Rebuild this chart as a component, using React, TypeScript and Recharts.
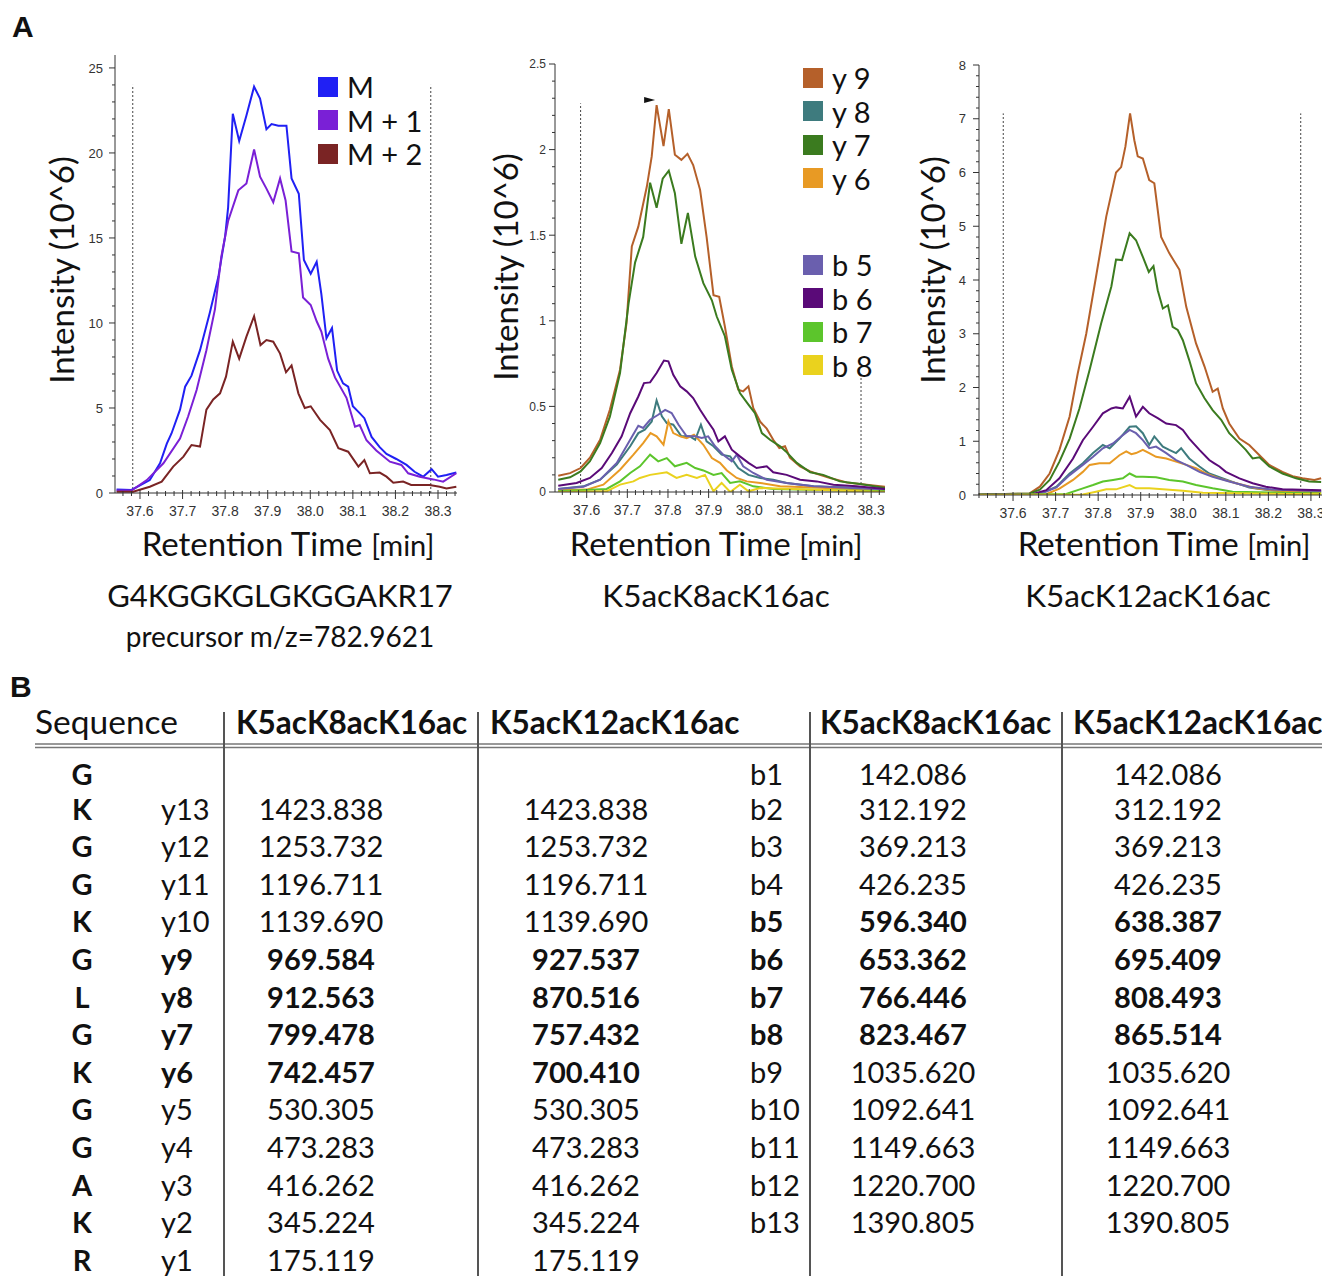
import React from "react";
import { LineChart, Line, XAxis, YAxis, ReferenceLine, ReferenceDot, Legend } from "recharts";

// ---- panel A1: precursor isotopes (retention time, intensity 10^6) ----
const precM = [[37.545,0.2],[37.58,0.18],[37.623,0.76],[37.647,1.75],[37.663,2.9],[37.674,3.5],[37.694,4.9],[37.706,6.25],[37.721,6.9],[37.741,8.4],[37.764,10.6],[37.784,12.7],[37.8,15.1],[37.807,16.8],[37.818,22.3],[37.833,20.7],[37.85,22.2],[37.868,23.9],[37.882,23.2],[37.897,21.4],[37.909,21.7],[37.925,21.6],[37.944,21.6],[37.956,18.5],[37.973,17.6],[37.985,13.7],[38.001,12.9],[38.015,13.6],[38.026,11.7],[38.038,9.1],[38.051,9.7],[38.063,7.2],[38.077,6.45],[38.089,6.25],[38.1,5.1],[38.116,4.7],[38.127,4.4],[38.144,3.3],[38.163,2.7],[38.179,2.3],[38.202,2.0],[38.226,1.65],[38.245,1.25],[38.265,0.96],[38.285,1.4],[38.3,0.96],[38.32,1.06],[38.343,1.2]];
const precM1 = [[37.545,0.14],[37.58,0.14],[37.616,0.76],[37.655,1.75],[37.694,3.2],[37.713,4.5],[37.733,6.06],[37.756,8.4],[37.776,10.8],[37.791,13.9],[37.807,16.0],[37.831,17.8],[37.85,18.2],[37.868,20.2],[37.882,18.6],[37.897,17.9],[37.913,17.1],[37.929,18.5],[37.942,17.2],[37.956,14.2],[37.973,14.1],[37.983,11.5],[38.001,11.06],[38.015,10.1],[38.026,9.5],[38.042,7.9],[38.058,6.8],[38.085,5.6],[38.105,3.9],[38.116,4.0],[38.132,3.1],[38.155,2.5],[38.187,1.84],[38.214,1.65],[38.23,1.16],[38.257,0.96],[38.289,0.8],[38.312,0.67],[38.343,1.16]];
const precM2 = [[37.545,0.08],[37.584,0.08],[37.623,0.37],[37.651,0.67],[37.678,1.55],[37.702,2.14],[37.721,2.82],[37.741,2.73],[37.756,4.9],[37.772,5.5],[37.788,5.86],[37.802,6.84],[37.818,8.9],[37.833,7.9],[37.85,9.2],[37.868,10.4],[37.883,8.7],[37.897,9.0],[37.913,8.9],[37.929,8.2],[37.943,7.1],[37.956,7.5],[37.972,5.86],[37.987,5.0],[38.001,5.1],[38.023,4.3],[38.046,3.7],[38.066,2.63],[38.089,2.43],[38.113,1.55],[38.127,1.94],[38.14,1.16],[38.163,1.2],[38.179,0.96],[38.195,0.6],[38.218,0.67],[38.237,0.47],[38.28,0.47],[38.304,0.37],[38.32,0.27],[38.343,0.37]];

// ---- panel A2: K5acK8acK16ac fragments ----
const k8y9 = [[37.53,0.095],[37.559,0.11],[37.585,0.14],[37.608,0.2],[37.633,0.305],[37.657,0.48],[37.682,0.714],[37.698,0.986],[37.711,1.434],[37.727,1.55],[37.748,1.784],[37.76,1.96],[37.772,2.26],[37.789,2.02],[37.802,2.236],[37.817,1.97],[37.833,1.94],[37.848,1.975],[37.862,1.91],[37.879,1.765],[37.895,1.49],[37.912,1.15],[37.926,1.14],[37.94,0.967],[37.957,0.733],[37.973,0.597],[37.985,0.588],[37.998,0.617],[38.01,0.49],[38.027,0.41],[38.043,0.37],[38.059,0.305],[38.074,0.257],[38.088,0.267],[38.1,0.2],[38.125,0.15],[38.15,0.12],[38.166,0.107],[38.199,0.082],[38.24,0.056],[38.289,0.043],[38.334,0.03]];
const k8y8 = [[37.53,0.018],[37.592,0.033],[37.633,0.072],[37.674,0.16],[37.707,0.267],[37.727,0.344],[37.743,0.364],[37.76,0.412],[37.772,0.535],[37.785,0.442],[37.797,0.403],[37.813,0.393],[37.833,0.325],[37.854,0.325],[37.867,0.305],[37.881,0.393],[37.895,0.296],[37.912,0.267],[37.932,0.218],[37.953,0.208],[37.973,0.14],[37.998,0.1],[38.027,0.082],[38.059,0.072],[38.092,0.053],[38.158,0.033],[38.334,0.018]];
const k8y7 = [[37.53,0.072],[37.559,0.086],[37.585,0.12],[37.608,0.18],[37.633,0.286],[37.657,0.44],[37.682,0.695],[37.703,1.1],[37.719,1.34],[37.739,1.49],[37.756,1.807],[37.772,1.66],[37.787,1.83],[37.802,1.877],[37.817,1.745],[37.833,1.45],[37.849,1.63],[37.867,1.375],[37.887,1.22],[37.908,1.12],[37.92,1.025],[37.94,0.91],[37.957,0.714],[37.977,0.578],[37.998,0.51],[38.014,0.46],[38.031,0.344],[38.051,0.305],[38.076,0.267],[38.09,0.237],[38.117,0.17],[38.15,0.115],[38.182,0.1],[38.223,0.062],[38.273,0.047],[38.334,0.023]];
const k8y6 = [[37.53,0.01],[37.6,0.014],[37.641,0.043],[37.682,0.13],[37.715,0.218],[37.739,0.286],[37.757,0.344],[37.772,0.325],[37.789,0.276],[37.801,0.412],[37.813,0.344],[37.83,0.325],[37.846,0.315],[37.864,0.335],[37.887,0.276],[37.908,0.198],[37.928,0.17],[37.945,0.126],[37.969,0.082],[37.994,0.062],[38.027,0.053],[38.076,0.033],[38.334,0.01]];
const k8b5 = [[37.53,0.018],[37.592,0.03],[37.633,0.072],[37.674,0.17],[37.707,0.305],[37.727,0.387],[37.739,0.374],[37.756,0.422],[37.776,0.451],[37.793,0.48],[37.809,0.461],[37.826,0.393],[37.846,0.325],[37.867,0.325],[37.883,0.315],[37.899,0.325],[37.916,0.267],[37.936,0.218],[37.957,0.179],[37.969,0.218],[37.985,0.15],[38.01,0.111],[38.043,0.072],[38.092,0.053],[38.158,0.033],[38.334,0.014]];
const k8b6 = [[37.53,0.037],[37.575,0.053],[37.608,0.082],[37.637,0.14],[37.662,0.228],[37.686,0.325],[37.707,0.46],[37.727,0.558],[37.741,0.636],[37.756,0.64],[37.772,0.695],[37.79,0.768],[37.801,0.763],[37.813,0.685],[37.83,0.617],[37.846,0.588],[37.862,0.549],[37.879,0.48],[37.895,0.422],[37.912,0.364],[37.924,0.296],[37.94,0.325],[37.957,0.247],[37.977,0.208],[37.998,0.17],[38.018,0.14],[38.043,0.15],[38.059,0.115],[38.092,0.1],[38.125,0.072],[38.166,0.062],[38.207,0.043],[38.264,0.033],[38.334,0.018]];
const k8b7 = [[37.53,0.004],[37.649,0.018],[37.682,0.062],[37.707,0.111],[37.731,0.15],[37.756,0.218],[37.776,0.179],[37.797,0.198],[37.817,0.15],[37.846,0.17],[37.867,0.14],[37.887,0.126],[37.912,0.1],[37.932,0.111],[37.953,0.053],[37.977,0.062],[38.01,0.033],[38.059,0.018],[38.334,0.004]];
const k8b8 = [[37.53,0.0],[37.649,0.004],[37.682,0.043],[37.715,0.062],[37.731,0.082],[37.756,0.1],[37.797,0.115],[37.821,0.082],[37.846,0.1],[37.871,0.082],[37.891,0.1],[37.912,0.004],[37.932,0.053],[37.953,0.0],[37.977,0.043],[37.998,0.004],[38.027,0.023],[38.334,0.0]];

// ---- panel A3: K5acK12acK16ac fragments ----
const k12y9 = [[37.52,0.01],[37.639,0.03],[37.663,0.155],[37.686,0.4],[37.709,0.84],[37.733,1.46],[37.752,2.26],[37.772,3.0],[37.795,4.06],[37.819,5.18],[37.842,6.0],[37.854,6.1],[37.864,6.48],[37.875,7.1],[37.885,6.6],[37.893,6.3],[37.905,6.26],[37.92,5.86],[37.932,5.8],[37.948,4.8],[37.967,4.5],[37.991,4.19],[38.007,3.5],[38.03,2.82],[38.05,2.39],[38.069,1.92],[38.081,1.98],[38.093,1.61],[38.108,1.33],[38.132,1.05],[38.155,0.93],[38.179,0.74],[38.202,0.56],[38.233,0.43],[38.257,0.35],[38.28,0.31],[38.308,0.28],[38.324,0.31]];
const k12y8 = [[37.52,0.0],[37.663,0.02],[37.702,0.155],[37.733,0.4],[37.764,0.59],[37.788,0.78],[37.811,0.93],[37.827,0.87],[37.85,1.05],[37.874,1.27],[37.889,1.28],[37.905,1.15],[37.92,0.93],[37.932,1.09],[37.952,0.9],[37.967,0.84],[37.983,0.78],[37.995,0.87],[38.014,0.68],[38.038,0.53],[38.061,0.4],[38.093,0.31],[38.124,0.22],[38.155,0.14],[38.202,0.09],[38.324,0.06]];
const k12y7 = [[37.52,0.01],[37.639,0.03],[37.663,0.1],[37.686,0.28],[37.709,0.62],[37.733,1.05],[37.756,1.61],[37.78,2.33],[37.807,3.19],[37.831,3.88],[37.842,4.38],[37.856,4.37],[37.874,4.87],[37.889,4.74],[37.905,4.43],[37.919,4.15],[37.93,4.26],[37.94,3.81],[37.952,3.47],[37.964,3.53],[37.975,3.13],[37.987,3.07],[37.999,2.88],[38.014,2.51],[38.03,2.08],[38.05,1.8],[38.069,1.58],[38.089,1.4],[38.108,1.15],[38.132,0.96],[38.147,0.84],[38.163,0.68],[38.179,0.7],[38.202,0.53],[38.233,0.4],[38.265,0.31],[38.296,0.25],[38.324,0.24]];
const k12y6 = [[37.52,0.0],[37.679,0.02],[37.709,0.12],[37.741,0.28],[37.764,0.43],[37.78,0.56],[37.803,0.59],[37.827,0.59],[37.85,0.74],[37.866,0.81],[37.878,0.76],[37.889,0.78],[37.905,0.84],[37.92,0.78],[37.936,0.71],[37.96,0.68],[37.983,0.62],[38.007,0.56],[38.03,0.5],[38.053,0.4],[38.085,0.31],[38.124,0.22],[38.171,0.124],[38.233,0.062],[38.324,0.043]];
const k12b5 = [[37.52,0.0],[37.663,0.02],[37.702,0.14],[37.733,0.37],[37.764,0.56],[37.788,0.71],[37.811,0.87],[37.835,0.96],[37.854,1.09],[37.874,1.21],[37.889,1.15],[37.905,1.02],[37.92,0.87],[37.936,0.9],[37.96,0.78],[37.983,0.65],[38.007,0.56],[38.038,0.43],[38.069,0.34],[38.108,0.25],[38.155,0.155],[38.202,0.105],[38.324,0.075]];
const k12b6 = [[37.52,0.0],[37.647,0.02],[37.678,0.09],[37.709,0.31],[37.741,0.68],[37.764,1.02],[37.788,1.27],[37.811,1.52],[37.831,1.61],[37.842,1.63],[37.858,1.61],[37.874,1.83],[37.889,1.46],[37.905,1.64],[37.92,1.52],[37.94,1.43],[37.96,1.33],[37.983,1.3],[37.999,1.21],[38.014,1.05],[38.038,0.84],[38.061,0.65],[38.073,0.59],[38.085,0.53],[38.1,0.43],[38.132,0.31],[38.163,0.22],[38.194,0.155],[38.233,0.105],[38.324,0.09]];
const k12b7 = [[37.52,0.0],[37.725,0.02],[37.764,0.124],[37.788,0.186],[37.811,0.25],[37.835,0.28],[37.858,0.31],[37.874,0.4],[37.889,0.34],[37.905,0.34],[37.936,0.33],[37.967,0.28],[37.999,0.25],[38.03,0.186],[38.069,0.124],[38.116,0.062],[38.324,0.03]];
const k12b8 = [[37.52,0.0],[37.764,0.01],[37.795,0.062],[37.819,0.105],[37.842,0.105],[37.874,0.186],[37.889,0.124],[37.92,0.124],[37.952,0.105],[37.999,0.08],[38.046,0.043],[38.324,0.012]];

// ---- tick labels ----
const rtMajor = [37.6, 37.7, 37.8, 37.9, 38.0, 38.1, 38.2, 38.3];
const yMajor1 = [0, 5, 10, 15, 20, 25];
const yMajor2 = [0, 0.5, 1, 1.5, 2, 2.5];
const yMajor3 = [0, 1, 2, 3, 4, 5, 6, 7, 8];

// ---- table B ----
const residues = ["G", "K", "G", "G", "K", "G", "L", "G", "K", "G", "G", "A", "K", "R"];
const yIons = ["", "y13", "y12", "y11", "y10", "y9", "y8", "y7", "y6", "y5", "y4", "y3", "y2", "y1"];
const yK8 = ["", "1423.838", "1253.732", "1196.711", "1139.690", "969.584", "912.563", "799.478", "742.457", "530.305", "473.283", "416.262", "345.224", "175.119"];
const yK12 = ["", "1423.838", "1253.732", "1196.711", "1139.690", "927.537", "870.516", "757.432", "700.410", "530.305", "473.283", "416.262", "345.224", "175.119"];
const bIons = ["b1", "b2", "b3", "b4", "b5", "b6", "b7", "b8", "b9", "b10", "b11", "b12", "b13", ""];
const bK8 = ["142.086", "312.192", "369.213", "426.235", "596.340", "653.362", "766.446", "823.467", "1035.620", "1092.641", "1149.663", "1220.700", "1390.805", ""];
const bK12 = ["142.086", "312.192", "369.213", "426.235", "638.387", "695.409", "808.493", "865.514", "1035.620", "1092.641", "1149.663", "1220.700", "1390.805", ""];
const yBold = ["y9", "y8", "y7", "y6"];
const bBold = ["b5", "b6", "b7", "b8"];

const toPts = (arr: number[][]) => arr.map(([t, v]) => ({ t, v }));

const steps = (a: number, b: number, step: number) => {
  const out: number[] = [];
  const n = Math.round((b - a) / step);
  for (let i = 0; i <= n; i++) out.push(+(a + i * step).toFixed(2));
  return out;
};

const SANS = "Lato, 'Open Sans', sans-serif";
const TICKFONT = "'Liberation Sans', Arial, sans-serif";
const near = (v: number, list: number[]) => list.some((m) => Math.abs(m - v) < 1e-6);

const makeYTick = (major: number[], gap: number, fs: number) => (p: any) => {
  const { x, y, payload } = p;
  const isMaj = near(payload.value, major);
  return (
    <g>
      <line x1={x} x2={x - (isMaj ? 6 : 3)} y1={y} y2={y} stroke="#333" />
      {isMaj && (
        <text x={x - gap} y={y} dy="0.36em" textAnchor="end" fontSize={fs} fill="#333" fontFamily={TICKFONT}>
          {String(payload.value)}
        </text>
      )}
    </g>
  );
};

const XTick = (p: any) => {
  const { x, y, payload } = p;
  const isMaj = near(payload.value, rtMajor);
  return (
    <g>
      <line x1={x} x2={x} y1={y - (isMaj ? 3 : 2)} y2={y + (isMaj ? 6 : 3)} stroke="#333" />
      {isMaj && (
        <text x={x} y={y + 23} textAnchor="middle" fontSize={14} fill="#333" fontFamily={TICKFONT}>
          {payload.value.toFixed(1)}
        </text>
      )}
    </g>
  );
};

// legend keeps the series order (recharts sorts by name otherwise)
const legendContent = (order: string[], gapAfter: number, extra: number) => (props: any) => {
  const items = [...(props.payload || [])].sort(
    (a: any, b: any) => order.indexOf(a.value) - order.indexOf(b.value)
  );
  return (
    <div style={{ fontFamily: SANS, fontSize: 29, color: "#111" }}>
      {items.map((it: any, i: number) => (
        <div key={i} style={{ display: "flex", alignItems: "center", height: 33.5, marginTop: i === gapAfter ? extra : 0 }}>
          <span style={{ width: 20, height: 20, background: it.color, display: "inline-block", marginRight: 9 }} />
          <span>{it.value}</span>
        </div>
      ))}
    </div>
  );
};

type Series = { name: string; color: string; data: number[][] };

const precSeries: Series[] = [
  { name: "M", color: "#2020f4", data: precM },
  { name: "M + 1", color: "#7a20d6", data: precM1 },
  { name: "M + 2", color: "#7a2424", data: precM2 },
];
const col = { y9: "#b5602a", y8: "#3e7b7e", y7: "#3b7b1f", y6: "#e89a24", b5: "#6a5fae", b6: "#5a0a78", b7: "#5cc52c", b8: "#ead21e" };
const k8Series: Series[] = [
  { name: "y 9", color: col.y9, data: k8y9 },
  { name: "y 8", color: col.y8, data: k8y8 },
  { name: "y 7", color: col.y7, data: k8y7 },
  { name: "y 6", color: col.y6, data: k8y6 },
  { name: "b 5", color: col.b5, data: k8b5 },
  { name: "b 6", color: col.b6, data: k8b6 },
  { name: "b 7", color: col.b7, data: k8b7 },
  { name: "b 8", color: col.b8, data: k8b8 },
];
const k12Series: Series[] = [
  { name: "y 9", color: col.y9, data: k12y9 },
  { name: "y 8", color: col.y8, data: k12y8 },
  { name: "y 7", color: col.y7, data: k12y7 },
  { name: "y 6", color: col.y6, data: k12y6 },
  { name: "b 5", color: col.b5, data: k12b5 },
  { name: "b 6", color: col.b6, data: k12b6 },
  { name: "b 7", color: col.b7, data: k12b7 },
  { name: "b 8", color: col.b8, data: k12b8 },
];

type PanelProps = {
  left: number;
  width: number;
  top: number;
  bottom: number;
  right: number;
  yWidth: number;
  xDomain: [number, number];
  xTicks: number[];
  yDomain: [number, number];
  yTicks: number[];
  yMajor: number[];
  yGap: number;
  yFont: number;
  series: Series[];
  marks: { x: number; y2: number }[];
  legend?: React.ReactNode;
  extra?: React.ReactNode;
};

function Panel(p: PanelProps) {
  return (
    <div style={{ position: "absolute", left: p.left, top: 0 }}>
      <LineChart width={p.width} height={540} margin={{ top: p.top, right: p.right, bottom: p.bottom, left: 0 }}>
        <XAxis
          dataKey="t"
          type="number"
          domain={p.xDomain}
          allowDataOverflow
          ticks={p.xTicks}
          interval={0}
          tickSize={0}
          tickMargin={0}
          tickLine={false}
          tick={XTick}
          height={30}
          axisLine={{ stroke: "#333" }}
        />
        <YAxis
          type="number"
          domain={p.yDomain}
          allowDataOverflow
          ticks={p.yTicks}
          interval={0}
          tickSize={0}
          tickMargin={0}
          tickLine={false}
          tick={makeYTick(p.yMajor, p.yGap, p.yFont)}
          width={p.yWidth}
          axisLine={{ stroke: "#333" }}
        />
        {p.marks.map((m, i) => (
          <ReferenceLine
            key={i}
            segment={[{ x: m.x, y: 0 }, { x: m.x, y: m.y2 }]}
            stroke="#444"
            strokeDasharray="2 2"
          />
        ))}
        {p.series.map((s) => (
          <Line
            key={s.name}
            data={toPts(s.data)}
            dataKey="v"
            name={s.name}
            type="linear"
            stroke={s.color}
            strokeWidth={2}
            dot={false}
            isAnimationActive={false}
          />
        ))}
        {p.legend}
        {p.extra}
      </LineChart>
    </div>
  );
}

const Arrow = (p: any) => (
  <path d={`M${p.cx - 6},${p.cy - 3} L${p.cx + 5},${p.cy} L${p.cx - 6},${p.cy + 3} Z`} fill="#111" />
);

export default function App() {
  const rowY = (i: number) => (i === 0 ? 784.5 : 819.5 + (i - 1) * 37.6);
  const tFont = { fontFamily: SANS, fill: "#111" };
  return (
    <div style={{ position: "absolute", left: 0, top: 0, width: 1322, height: 1276, overflow: "hidden", background: "#fff" }}>
      <Panel
        left={0}
        width={462}
        top={55}
        right={5}
        bottom={17}
        yWidth={115}
        xDomain={[37.5413, 38.3446]}
        xTicks={steps(37.56, 38.34, 0.02)}
        yDomain={[0, 25.76]}
        yTicks={steps(0, 25, 1)}
        yMajor={yMajor1}
        yGap={12}
        yFont={13}
        series={precSeries}
        marks={[{ x: 37.583, y2: 24 }, { x: 38.283, y2: 24 }]}
        legend={
          <Legend
            layout="vertical"
            align="center"
            verticalAlign="middle"
            content={legendContent(precSeries.map((s) => s.name), -1, 0)}
            wrapperStyle={{ left: 318, top: 70, width: 140 }}
          />
        }
      />
      <Panel
        left={440}
        width={450}
        top={64}
        right={5}
        bottom={18}
        yWidth={115}
        xDomain={[37.522, 38.334]}
        xTicks={steps(37.54, 38.32, 0.02)}
        yDomain={[0, 2.5]}
        yTicks={steps(0, 2.5, 0.1)}
        yMajor={yMajor2}
        yGap={9}
        yFont={12}
        series={k8Series}
        marks={[{ x: 37.585, y2: 2.27 }, { x: 38.275, y2: 0.667 }]}
        legend={
          <Legend
            layout="vertical"
            align="center"
            verticalAlign="middle"
            content={legendContent(k8Series.map((s) => s.name), 4, 53)}
            wrapperStyle={{ left: 363, top: 61, width: 100 }}
          />
        }
        extra={<ReferenceDot x={37.756} y={2.29} r={4} shape={Arrow} />}
      />
      <Panel
        left={880}
        width={442}
        top={65}
        right={0}
        bottom={15}
        yWidth={99}
        xDomain={[37.52, 38.326]}
        xTicks={steps(37.52, 38.32, 0.02)}
        yDomain={[0, 8]}
        yTicks={steps(0, 8, 0.2)}
        yMajor={yMajor3}
        yGap={13}
        yFont={13}
        series={k12Series}
        marks={[{ x: 37.577, y2: 7.1 }, { x: 38.276, y2: 7.1 }]}
      />

      <svg width={1322} height={1276} style={{ position: "absolute", left: 0, top: 0, pointerEvents: "none" }}>
        <text x={12} y={37} fontSize={30} fontWeight="bold" fontFamily={TICKFONT} fill="#111">A</text>
        {[
          { x: 74, y: 270 },
          { x: 518, y: 267 },
          { x: 945, y: 270 },
        ].map((a, i) => (
          <text key={i} transform={`translate(${a.x},${a.y}) rotate(-90)`} textAnchor="middle" fontSize={33} {...tFont}>
            Intensity (10^6)
          </text>
        ))}
        {[288, 716, 1164].map((cx, i) => (
          <text key={i} x={cx} y={556} textAnchor="middle" fontSize={33} {...tFont}>
            Retention Time <tspan fontSize={29}>[min]</tspan>
          </text>
        ))}
        <text x={280} y={607} textAnchor="middle" fontSize={31} {...tFont}>G4KGGKGLGKGGAKR17</text>
        <text x={716} y={607} textAnchor="middle" fontSize={31.5} {...tFont}>K5acK8acK16ac</text>
        <text x={1148} y={607} textAnchor="middle" fontSize={31.5} {...tFont}>K5acK12acK16ac</text>
        <text x={280} y={647} textAnchor="middle" fontSize={28} {...tFont}>precursor m/z=782.9621</text>

        <text x={10} y={697} fontSize={30} fontWeight="bold" fontFamily={TICKFONT} fill="#111">B</text>
        <text x={35} y={734} fontSize={33.5} {...tFont}>Sequence</text>
        <text x={236} y={734} fontSize={31.5} fontWeight="bold" {...tFont}>K5acK8acK16ac</text>
        <text x={490} y={734} fontSize={31.5} fontWeight="bold" {...tFont}>K5acK12acK16ac</text>
        <text x={820} y={734} fontSize={31.5} fontWeight="bold" {...tFont}>K5acK8acK16ac</text>
        <text x={1073} y={734} fontSize={31.5} fontWeight="bold" {...tFont}>K5acK12acK16ac</text>
        <line x1={35} x2={1322} y1={744} y2={744} stroke="#777" strokeWidth={1.5} />
        <line x1={35} x2={1322} y1={747.5} y2={747.5} stroke="#777" strokeWidth={1.5} />
        {[224, 478, 810, 1062].map((x) => (
          <line key={x} x1={x} x2={x} y1={712} y2={1276} stroke="#555" strokeWidth={2} />
        ))}
        {residues.map((r, i) => {
          const yb = yBold.includes(yIons[i]) ? "bold" : "normal";
          const bb = bBold.includes(bIons[i]) ? "bold" : "normal";
          const y = rowY(i);
          return (
            <g key={i} fontSize={29}>
              <text x={82} y={y} textAnchor="middle" fontWeight="bold" {...tFont}>{r}</text>
              <text x={161} y={y} fontWeight={yb} {...tFont}>{yIons[i]}</text>
              <text x={321} y={y} textAnchor="middle" fontWeight={yb} {...tFont}>{yK8[i]}</text>
              <text x={586} y={y} textAnchor="middle" fontWeight={yb} {...tFont}>{yK12[i]}</text>
              <text x={750} y={y} fontWeight={bb} {...tFont}>{bIons[i]}</text>
              <text x={913} y={y} textAnchor="middle" fontWeight={bb} {...tFont}>{bK8[i]}</text>
              <text x={1168} y={y} textAnchor="middle" fontWeight={bb} {...tFont}>{bK12[i]}</text>
            </g>
          );
        })}
      </svg>
    </div>
  );
}
